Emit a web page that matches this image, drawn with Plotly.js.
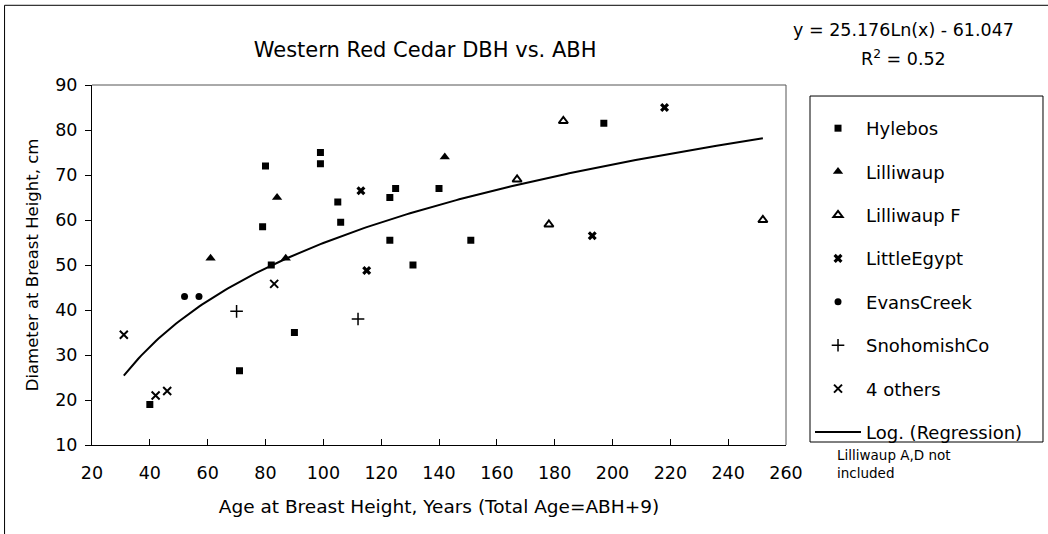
<!DOCTYPE html>
<html>
<head>
<meta charset="utf-8">
<script src="https://cdn.plot.ly/plotly-3.0.1.min.js"></script>
<style>
  html, body { margin: 0; padding: 0; background: #fff; }
  #chart { width: 1048px; height: 534px; }
</style>
</head>
<body>
<div id="chart"></div>
<script>
// Age at breast height (years) and diameter at breast height (cm), by site
const hylebosAge = [40, 71, 79, 80, 82, 90, 99, 99, 105, 106, 123, 123, 125, 131, 140, 151, 197];
const hylebosDbh = [19, 26.5, 58.5, 72, 50, 35, 75, 72.5, 64, 59.5, 65, 55.5, 67, 50, 67, 55.5, 81.5];
const lilliwaupAge = [61, 84, 87, 142];
const lilliwaupDbh = [51.5, 65, 51.5, 74];
const lilliwaupFAge = [167, 178, 183, 252];
const lilliwaupFDbh = [69, 59, 82, 60];
const littleEgyptAge = [113, 115, 193, 218];
const littleEgyptDbh = [66.5, 48.8, 56.5, 85];
const evansCreekAge = [52, 57];
const evansCreekDbh = [43, 43];
const snohomishAge = [70, 112];
const snohomishDbh = [39.7, 38];
const othersAge = [31, 42, 46, 83];
const othersDbh = [34.5, 21, 22, 45.8];

// Logarithmic trend line y = a*ln(x) + b over the sampled age span
const fitA = 25.176;
const fitB = -61.047;
const fitR2 = 0.52;
const fitFrom = 31;
const fitTo = 252;

const xTicks = [20, 40, 60, 80, 100, 120, 140, 160, 180, 200, 220, 240, 260];
const yTicks = [10, 20, 30, 40, 50, 60, 70, 80, 90];

const fitX = [];
const fitY = [];
for (let x = fitFrom; x <= fitTo; x += 1) {
  fitX.push(x);
  fitY.push(fitA * Math.log(x) + fitB);
}

const FONT = "DejaVu Sans, Verdana, sans-serif";
const INK = "#000";

function pts(name, xs, ys, marker) {
  return {
    type: "scatter", mode: "markers", name: name, x: xs, y: ys,
    legendgroup: name, marker: marker, cliponaxis: false, hoverinfo: "x+y"
  };
}

const traces = [
  pts("Hylebos", hylebosAge, hylebosDbh, {symbol: "square", size: 7, color: INK}),
  pts("Lilliwaup", lilliwaupAge, lilliwaupDbh, {symbol: "triangle-up", size: 9, color: INK}),
  pts("Lilliwaup F", lilliwaupFAge, lilliwaupFDbh, {symbol: "triangle-up-open", size: 8, color: INK, line: {width: 2, color: INK}}),
  pts("LittleEgypt", littleEgyptAge, littleEgyptDbh, {symbol: "x", size: 8, color: INK, line: {width: 0}}),
  pts("EvansCreek", evansCreekAge, evansCreekDbh, {symbol: "circle", size: 7, color: INK}),
  pts("SnohomishCo", snohomishAge, snohomishDbh, {symbol: "cross-thin-open", size: 9, color: INK, line: {width: 1.5, color: INK}}),
  pts("4 others", othersAge, othersDbh, {symbol: "x-thin-open", size: 8, color: INK, line: {width: 2, color: INK}}),
  {
    type: "scatter", mode: "lines", name: "Log. (Regression)", x: fitX, y: fitY,
    legendgroup: "fit", line: {color: INK, width: 2}, hoverinfo: "skip"
  }
];

// plot area spans 92..786 px horizontally, 85..445 px vertically
const layout = {
  width: 1048,
  height: 534,
  margin: {l: 92, r: 262, t: 85, b: 89, pad: 0},
  paper_bgcolor: "#fff",
  plot_bgcolor: "#fff",
  font: {family: FONT, size: 17, color: INK},
  showlegend: true,
  title: {
    text: "Western Red Cedar DBH vs. ABH",
    font: {family: FONT, size: 21, color: INK},
    x: 0.48, xref: "paper", xanchor: "center",
    y: 1.235, yref: "paper", yanchor: "top"
  },
  xaxis: {
    range: [20, 260], tickvals: xTicks, ticktext: xTicks.map(String),
    showgrid: false, zeroline: false,
    showline: true, linecolor: INK, linewidth: 1,
    ticks: "inside", ticklen: 6, tickcolor: INK, tickwidth: 1,
    ticklabelstandoff: 12,
    tickfont: {family: FONT, size: 17.5, color: INK},
    title: {text: "Age at Breast Height, Years (Total Age=ABH+9)", font: {family: FONT, size: 18.5, color: INK}, standoff: 18}
  },
  yaxis: {
    range: [10, 90], tickvals: yTicks, ticktext: yTicks.map(String),
    showgrid: false, zeroline: false,
    showline: true, linecolor: INK, linewidth: 1,
    ticks: "outside", ticklen: 6, tickcolor: INK, tickwidth: 1,
    ticklabelstandoff: 4,
    tickfont: {family: FONT, size: 17.5, color: INK},
    title: {text: "Diameter at Breast Height, cm", font: {family: FONT, size: 16.5, color: INK}, standoff: 12}
  },
  legend: {
    x: 1.0346, xanchor: "left", xref: "paper",
    y: 0.9306, yanchor: "top", yref: "paper",
    bgcolor: "rgba(0,0,0,0)", borderwidth: 0,
    font: {family: FONT, size: 18, color: INK},
    tracegroupgap: 17, itemwidth: 46, traceorder: "grouped"
  },
  shapes: [
    // plot area frame (top and right edges)
    {type: "line", xref: "paper", yref: "paper", x0: 0, x1: 1, y0: 1, y1: 1, line: {color: "#555", width: 1}},
    {type: "line", xref: "paper", yref: "paper", x0: 1, x1: 1, y0: 0, y1: 1, line: {color: "#555", width: 1}},
    // legend frame
    {type: "rect", xref: "paper", yref: "paper", x0: 1.0346, x1: 1.3703, y0: 0.0083, y1: 0.9694, line: {color: INK, width: 1}, layer: "below"},
    // chart frame (left and top edges)
    {type: "line", xref: "paper", yref: "paper", x0: -0.126, x1: -0.126, y0: -0.4, y1: 1.2214, line: {color: INK, width: 1}},
    {type: "line", xref: "paper", yref: "paper", x0: -0.126, x1: 1.7, y0: 1.2214, y1: 1.2214, line: {color: INK, width: 1}}
  ],
  annotations: [
    {
      text: "y = " + fitA.toFixed(3) + "Ln(x) - " + Math.abs(fitB).toFixed(3),
      xref: "paper", yref: "paper", x: 1.17, y: 1.153, xanchor: "center", yanchor: "middle",
      showarrow: false, font: {family: FONT, size: 17.5, color: INK}
    },
    {
      text: "R<sup>2</sup> = " + fitR2.toFixed(2),
      xref: "paper", yref: "paper", x: 1.17, y: 1.075, xanchor: "center", yanchor: "middle",
      showarrow: false, font: {family: FONT, size: 17.5, color: INK}
    },
    {
      text: "Lilliwaup A,D not<br>included",
      xref: "paper", yref: "paper", x: 1.071, y: 0.0, xanchor: "left", yanchor: "top", align: "left",
      showarrow: false, font: {family: FONT, size: 13.5, color: INK}
    }
  ]
};

Plotly.newPlot("chart", traces, layout, {staticPlot: true, displayModeBar: false});
</script>
</body>
</html>
